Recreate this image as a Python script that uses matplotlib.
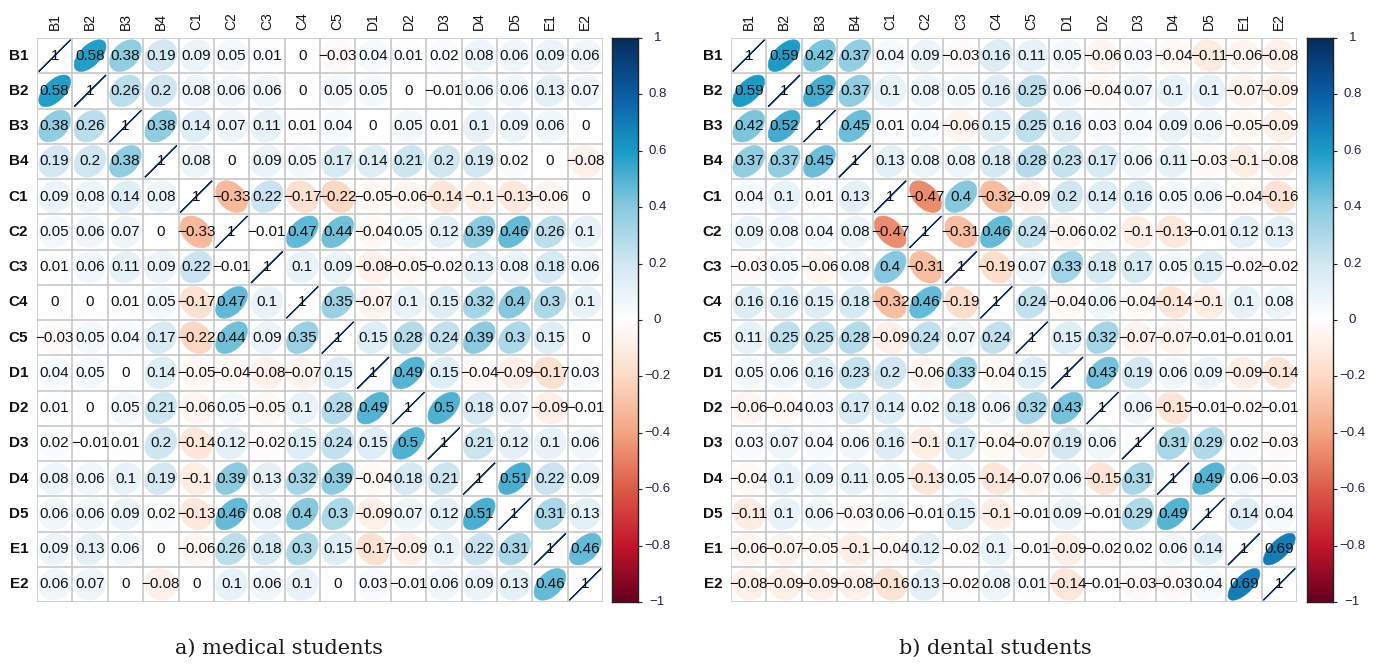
import numpy as np
import matplotlib
from matplotlib import pyplot as plt
from matplotlib.colors import LinearSegmentedColormap
from matplotlib.patches import Polygon

plt.switch_backend('agg')

labels = ['B1', 'B2', 'B3', 'B4', 'C1', 'C2', 'C3', 'C4', 'C5',
          'D1', 'D2', 'D3', 'D4', 'D5', 'E1', 'E2']

# a) medical students, one row per item
medical = [
    [1, .58, .38, .19, .09, .05, .01, 0, -.03, .04, .01, .02, .08, .06, .09, .06],
    [.58, 1, .26, .2, .08, .06, .06, 0, .05, .05, 0, -.01, .06, .06, .13, .07],
    [.38, .26, 1, .38, .14, .07, .11, .01, .04, 0, .05, .01, .1, .09, .06, 0],
    [.19, .2, .38, 1, .08, 0, .09, .05, .17, .14, .21, .2, .19, .02, 0, -.08],
    [.09, .08, .14, .08, 1, -.33, .22, -.17, -.22, -.05, -.06, -.14, -.1, -.13, -.06, 0],
    [.05, .06, .07, 0, -.33, 1, -.01, .47, .44, -.04, .05, .12, .39, .46, .26, .1],
    [.01, .06, .11, .09, .22, -.01, 1, .1, .09, -.08, -.05, -.02, .13, .08, .18, .06],
    [0, 0, .01, .05, -.17, .47, .1, 1, .35, -.07, .1, .15, .32, .4, .3, .1],
    [-.03, .05, .04, .17, -.22, .44, .09, .35, 1, .15, .28, .24, .39, .3, .15, 0],
    [.04, .05, 0, .14, -.05, -.04, -.08, -.07, .15, 1, .49, .15, -.04, -.09, -.17, .03],
    [.01, 0, .05, .21, -.06, .05, -.05, .1, .28, .49, 1, .5, .18, .07, -.09, -.01],
    [.02, -.01, .01, .2, -.14, .12, -.02, .15, .24, .15, .5, 1, .21, .12, .1, .06],
    [.08, .06, .1, .19, -.1, .39, .13, .32, .39, -.04, .18, .21, 1, .51, .22, .09],
    [.06, .06, .09, .02, -.13, .46, .08, .4, .3, -.09, .07, .12, .51, 1, .31, .13],
    [.09, .13, .06, 0, -.06, .26, .18, .3, .15, -.17, -.09, .1, .22, .31, 1, .46],
    [.06, .07, 0, -.08, 0, .1, .06, .1, 0, .03, -.01, .06, .09, .13, .46, 1],
]

# b) dental students
dental = [
    [1, .59, .42, .37, .04, .09, -.03, .16, .11, .05, -.06, .03, -.04, -.11, -.06, -.08],
    [.59, 1, .52, .37, .1, .08, .05, .16, .25, .06, -.04, .07, .1, .1, -.07, -.09],
    [.42, .52, 1, .45, .01, .04, -.06, .15, .25, .16, .03, .04, .09, .06, -.05, -.09],
    [.37, .37, .45, 1, .13, .08, .08, .18, .28, .23, .17, .06, .11, -.03, -.1, -.08],
    [.04, .1, .01, .13, 1, -.47, .4, -.32, -.09, .2, .14, .16, .05, .06, -.04, -.16],
    [.09, .08, .04, .08, -.47, 1, -.31, .46, .24, -.06, .02, -.1, -.13, -.01, .12, .13],
    [-.03, .05, -.06, .08, .4, -.31, 1, -.19, .07, .33, .18, .17, .05, .15, -.02, -.02],
    [.16, .16, .15, .18, -.32, .46, -.19, 1, .24, -.04, .06, -.04, -.14, -.1, .1, .08],
    [.11, .25, .25, .28, -.09, .24, .07, .24, 1, .15, .32, -.07, -.07, -.01, -.01, .01],
    [.05, .06, .16, .23, .2, -.06, .33, -.04, .15, 1, .43, .19, .06, .09, -.09, -.14],
    [-.06, -.04, .03, .17, .14, .02, .18, .06, .32, .43, 1, .06, -.15, -.01, -.02, -.01],
    [.03, .07, .04, .06, .16, -.1, .17, -.04, -.07, .19, .06, 1, .31, .29, .02, -.03],
    [-.04, .1, .09, .11, .05, -.13, .05, -.14, -.07, .06, -.15, .31, 1, .49, .06, -.03],
    [-.11, .1, .06, -.03, .06, -.01, .15, -.1, -.01, .09, -.01, .29, .49, 1, .14, .04],
    [-.06, -.07, -.05, -.1, -.04, .12, -.02, .1, -.01, -.09, -.02, .02, .06, .14, 1, .69],
    [-.08, -.09, -.09, -.08, -.16, .13, -.02, .08, .01, -.14, -.01, -.03, -.03, .04, .69, 1],
]

captions = ['a) medical students', 'b) dental students']
cbar_ticks = [-1, -0.8, -0.6, -0.4, -0.2, 0, 0.2, 0.4, 0.6, 0.8, 1]

palette = ["#67001F", "#C4162B", "#DC5C48", "#F4A582", "#FDDBC7", "#FFFFFF",
           "#D2E8F2", "#8ACBE0", "#1A9CC8", "#0B5EA6", "#062D5C"]
cmap = LinearSegmentedColormap.from_list('rdbu_corr', palette, N=200)

W, H = 1381, 664
fig = plt.figure(figsize=(W / 100, H / 100), dpi=100)


def fmt(v):
    s = '%g' % round(v, 2)
    return s.replace('-', '\u2212')


def ellipse(rho, n=99):
    k = np.linspace(0, 2 * np.pi, n)
    a = np.arccos(np.clip(rho, -1, 1))
    x = np.cos(k + a / 2) / 2 * 0.9
    y = np.cos(k - a / 2) / 2 * 0.9
    return x, y


def draw_matrix(mat, x0, cx0, cap_x, caption):
    mat = np.array(mat)
    n = len(labels)
    ax = fig.add_axes([x0 / W, 1 - 602 / H, 566 / W, 564 / H])
    ax.set_xlim(0, n)
    ax.set_ylim(n, 0)
    ax.axis('off')
    for i in range(n):
        for j in range(n):
            r = mat[i, j]
            col = cmap((r + 1) / 2)
            ex, ey = ellipse(r)
            pts = np.column_stack([j + 0.5 + ex, i + 0.5 - ey])
            lw = 0.9 if i == j else 0.4
            ax.add_patch(Polygon(pts, closed=True, facecolor=col, edgecolor=col,
                                 linewidth=lw, zorder=1))
            ax.text(j + 0.5, i + 0.5, fmt(r), ha='center', va='center',
                    fontsize=11, family='Liberation Sans', color='#111111', zorder=3)
    for k in range(n + 1):
        ax.plot([k, k], [0, n], color='#C4C4C4', lw=1.1, zorder=2, solid_capstyle='butt')
        ax.plot([0, n], [k, k], color='#C4C4C4', lw=1.1, zorder=2, solid_capstyle='butt')
    for i, lab in enumerate(labels):
        ax.text(-0.25, i + 0.5, lab, ha='right', va='center', fontsize=11,
                fontweight='bold', family='Liberation Sans', color='#111111')
        ax.text(i + 0.5, -0.22, lab, ha='center', va='bottom', rotation=90,
                fontsize=10, family='Liberation Sans', color='#111111')

    # colour legend
    cax = fig.add_axes([cx0 / W, 1 - 602 / H, 26 / W, 564 / H])
    cax.imshow(np.linspace(1, -1, 200)[:, None], aspect='auto', cmap=cmap,
               vmin=-1, vmax=1, extent=[0, 1, -1, 1])
    cax.set_xlim(0, 1)
    cax.set_ylim(-1, 1)
    cax.set_xticks([])
    cax.yaxis.tick_right()
    cax.set_yticks(cbar_ticks)
    cax.set_yticklabels([])
    cax.tick_params(axis='y', direction='out', length=3, width=0.8, color='#222222')
    for sp in cax.spines.values():
        sp.set_linewidth(1.0)
        sp.set_color('#222222')
    for t in cbar_ticks:
        cax.text(1.75, t, fmt(t), ha='center', va='center', fontsize=9.5,
                 family='Liberation Sans', color='#222244',
                 transform=cax.get_yaxis_transform())

    fig.text(cap_x / W, 1 - 648 / H, caption, ha='center', va='center',
             fontsize=15, family='DejaVu Serif', color='#1a1a1a')


draw_matrix(medical, 37, 612, 279, captions[0])
draw_matrix(dental, 731, 1307, 995, captions[1])

fig.savefig('out.png', dpi=100)
